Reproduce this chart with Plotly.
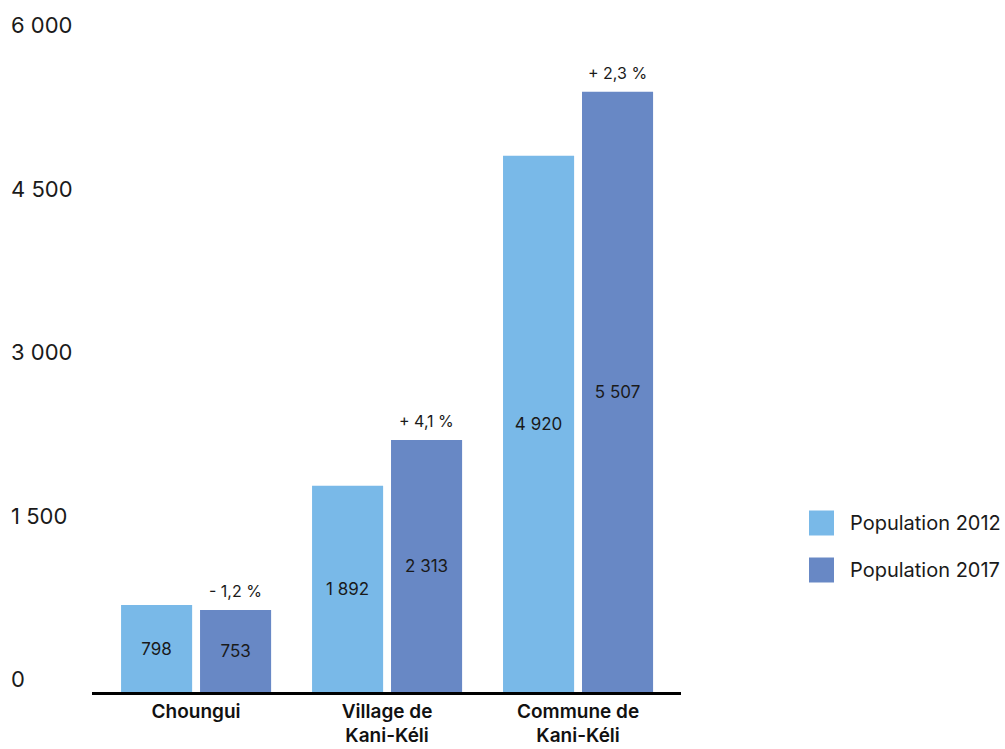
import plotly.graph_objects as go

# Population by area, 2012 vs 2017
categories = ["Choungui", "Village de<br>Kani-Kéli", "Commune de<br>Kani-Kéli"]
pop_2012 = [798, 1892, 4920]
pop_2017 = [753, 2313, 5507]
growth_labels = ["- 1,2 %", "+ 4,1 %", "+ 2,3 %"]
y_ticks = [0, 1500, 3000, 4500, 6000]
y_tick_labels = ["0", "1 500", "3 000", "4 500", "6 000"]
series_names = ["Population 2012", "Population 2017"]
series_colors = ["#79b9e8", "#6888c5"]

FONT = "Inter, Roboto, sans-serif"


def fmt(v):
    return f"{v:,}".replace(",", " ")


fig = go.Figure()
for name, vals, col in zip(series_names, [pop_2012, pop_2017], series_colors):
    fig.add_trace(go.Bar(
        x=categories, y=vals, name=name, marker_color=col,
        marker_line_width=0,
        text=[fmt(v) for v in vals], textposition="inside",
        insidetextanchor="middle",
        textfont=dict(family=FONT, size=17, color="#1a1a1a"),
        showlegend=False,
    ))

# plot area geometry (pixels) used to place paper-coordinate items
L, R, T, B = 92, 681, 38, 692
W, H = R - L, B - T


def px(xp):
    return (xp - L) / W


def py(yp):
    return (B - yp) / H


annotations = []
# growth labels above the 2017 bars
for cat, v, g in zip(categories, pop_2017, growth_labels):
    annotations.append(dict(
        x=cat, y=v, xref="x", yref="y", text=g, showarrow=False,
        xshift=39.5, yanchor="bottom", yshift=7,
        font=dict(family=FONT, size=16, color="#1a1a1a"),
    ))

# y tick labels, left aligned at the page edge
for t, lab in zip(y_ticks, y_tick_labels):
    annotations.append(dict(
        x=px(9), y=t, xref="paper", yref="y", text=lab, showarrow=False,
        xanchor="left", yanchor="middle", yshift=13,
        font=dict(family=FONT, size=22, color="#1a1a1a"),
    ))

# legend
shapes = []
for i, (name, col) in enumerate(zip(series_names, series_colors)):
    cy = 523 + i * 47
    shapes.append(dict(
        type="rect", xref="paper", yref="paper",
        x0=px(809), x1=px(834), y0=py(cy + 12.5), y1=py(cy - 12.5),
        fillcolor=col, line_width=0,
    ))
    annotations.append(dict(
        x=px(848), y=py(cy), xref="paper", yref="paper", text=name,
        showarrow=False, xanchor="left", yanchor="middle",
        font=dict(family=FONT, size=20, color="#1a1a1a"),
    ))

fig.update_layout(
    width=1005, height=749,
    margin=dict(l=L, r=1005 - R, t=T, b=749 - B),
    paper_bgcolor="white", plot_bgcolor="white",
    barmode="group", bargap=0.173, bargroupgap=0.1,
    font=dict(family=FONT, color="#111111"),
    annotations=annotations, shapes=shapes,
    showlegend=False,
)
fig.update_xaxes(
    automargin=False, range=[-0.545, 2.539],
    showline=True, linecolor="black", linewidth=2.5,
    showgrid=False, ticks="", ticklabelstandoff=0,
    tickfont=dict(family=FONT, size=19, color="#111111", weight=600),
)
fig.update_yaxes(
    automargin=False,
    range=[0, 6000], showgrid=False, zeroline=False, showticklabels=False,
    tickvals=y_ticks,
)

fig.write_html("out.html")
